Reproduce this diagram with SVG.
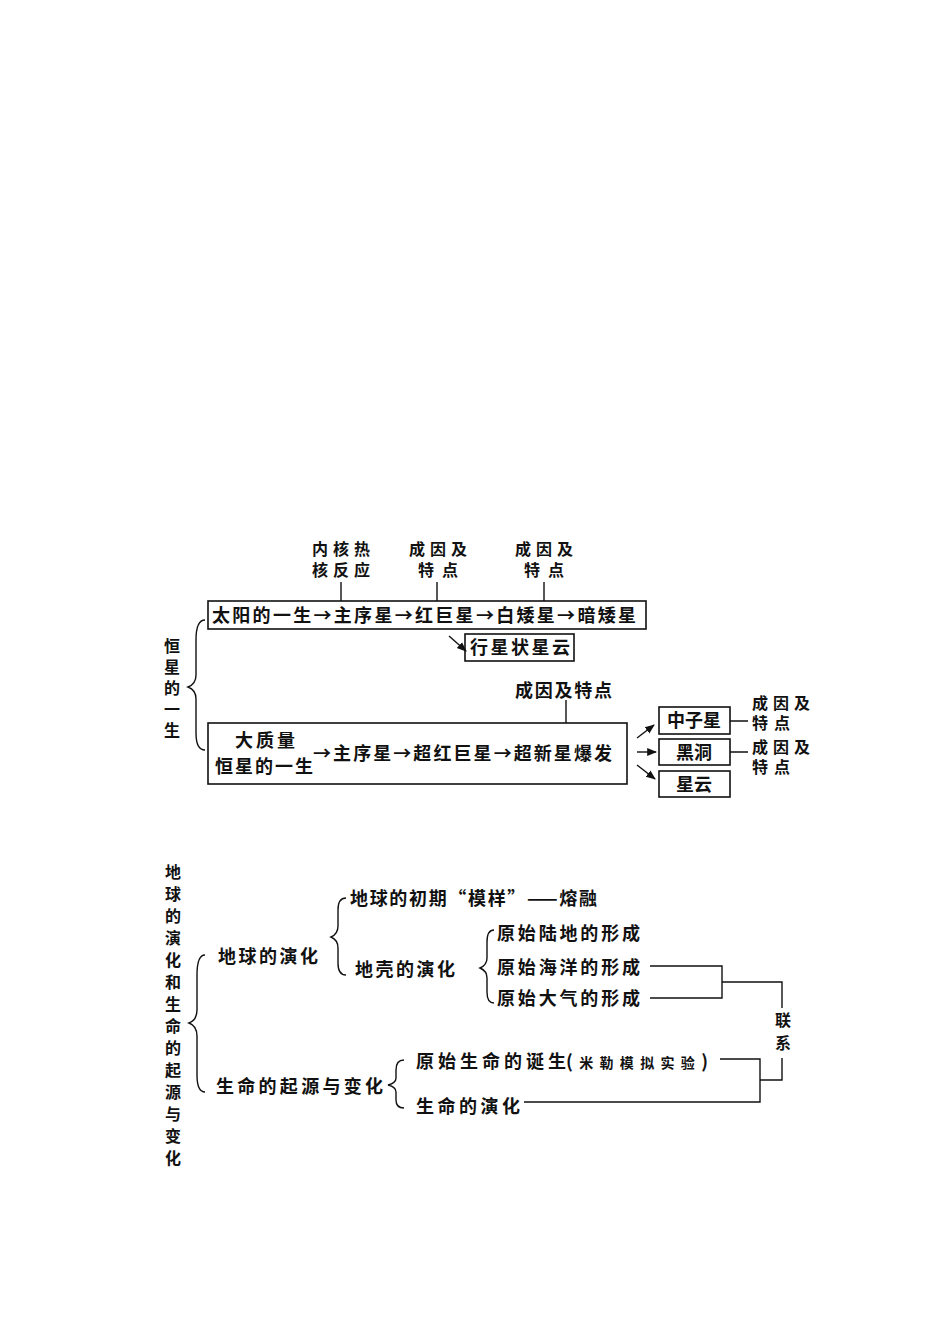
<svg xmlns="http://www.w3.org/2000/svg" width="950" height="1344" viewBox="0 0 950 1344">
<style>
text{font-family:"Noto Sans CJK SC","Noto Sans",sans-serif;font-size:18px;font-weight:bold;fill:#111}
.v{font-size:16px}
.s{font-size:14px}
.b{fill:none;stroke:#111;stroke-width:1.6}
.l{fill:none;stroke:#111;stroke-width:1.4}
.m{text-anchor:middle}
</style>
<defs><marker id="a" viewBox="0 0 10 10" refX="9" refY="5" markerWidth="7" markerHeight="7" orient="auto"><path d="M0,1 L10,5 L0,9 z" fill="#111"/></marker></defs>
<rect width="950" height="1344" fill="#fff"/>
<g id="top-labels">
<text x="312" y="555" class="v" textLength="58" lengthAdjust="spacing">内核热</text><text x="312" y="576" class="v" textLength="58" lengthAdjust="spacing">核反应</text>
<text x="409" y="555" class="v" textLength="58" lengthAdjust="spacing">成因及</text><text x="418" y="576" class="v" textLength="40" lengthAdjust="spacing">特点</text>
<text x="515" y="555" class="v" textLength="58" lengthAdjust="spacing">成因及</text><text x="524" y="576" class="v" textLength="40" lengthAdjust="spacing">特点</text>
</g>
<g id="sun"><rect x="208" y="601" width="438" height="28" class="b"/>
<text x="212" y="622" textLength="424" lengthAdjust="spacing">太阳的一生→主序星→红巨星→白矮星→暗矮星</text></g>
<g id="pn"><rect x="465" y="634" width="109" height="27" class="b"/><text x="470" y="654" textLength="100" lengthAdjust="spacing">行星状星云</text></g>
<g id="hengxing"><text x="172" y="652" class="m v">恒</text><text x="172" y="673" class="m v">星</text><text x="172" y="694" class="m v">的</text><text x="172" y="715" class="m v">一</text><text x="172" y="736" class="m v">生</text></g>
<g id="big-label"><text x="515" y="697" textLength="97" lengthAdjust="spacing">成因及特点</text></g>
<g id="massive"><rect x="208" y="723" width="419" height="61" class="b"/>
<text x="235" y="747" textLength="60" lengthAdjust="spacing">大质量</text><text x="215" y="773" textLength="98" lengthAdjust="spacing">恒星的一生</text>
<text x="313" y="760" textLength="299" lengthAdjust="spacing">→主序星→超红巨星→超新星爆发</text></g>
<g id="ns"><rect x="659" y="707" width="71" height="27" class="b"/><text x="694" y="727" class="m">中子星</text></g>
<g id="bh"><rect x="659" y="739" width="71" height="26" class="b"/><text x="694" y="759" class="m">黑洞</text></g>
<g id="neb"><rect x="659" y="771" width="71" height="26" class="b"/><text x="694" y="791" class="m">星云</text></g>
<g id="ns-l"><text x="752" y="709" class="v" textLength="58" lengthAdjust="spacing">成因及</text><text x="752" y="729" class="v" textLength="38" lengthAdjust="spacing">特点</text></g>
<g id="bh-l"><text x="752" y="753" class="v" textLength="58" lengthAdjust="spacing">成因及</text><text x="752" y="773" class="v" textLength="38" lengthAdjust="spacing">特点</text></g>
<g id="bottom-title">
<text x="173" y="878" class="m v">地</text><text x="173" y="900" class="m v">球</text><text x="173" y="922" class="m v">的</text><text x="173" y="944" class="m v">演</text><text x="173" y="966" class="m v">化</text><text x="173" y="988" class="m v">和</text><text x="173" y="1010" class="m v">生</text><text x="173" y="1032" class="m v">命</text><text x="173" y="1054" class="m v">的</text><text x="173" y="1076" class="m v">起</text><text x="173" y="1098" class="m v">源</text><text x="173" y="1120" class="m v">与</text><text x="173" y="1142" class="m v">变</text><text x="173" y="1164" class="m v">化</text>
</g>
<g id="earth"><text x="218" y="963" textLength="100" lengthAdjust="spacing">地球的演化</text></g>
<g id="e1"><text x="350" y="905" textLength="247" lengthAdjust="spacing">地球的初期“模样”——熔融</text></g>
<g id="e2"><text x="355" y="976" textLength="100" lengthAdjust="spacing">地壳的演化</text></g>
<g id="c1"><text x="497" y="940" textLength="143" lengthAdjust="spacing">原始陆地的形成</text></g>
<g id="c2"><text x="497" y="974" textLength="143" lengthAdjust="spacing">原始海洋的形成</text></g>
<g id="c3"><text x="497" y="1005" textLength="143" lengthAdjust="spacing">原始大气的形成</text></g>
<g id="life"><text x="216" y="1093" textLength="167" lengthAdjust="spacing">生命的起源与变化</text></g>
<g id="l1"><text x="416" y="1068" textLength="150" lengthAdjust="spacing">原始生命的诞生</text><text x="566" y="1068" textLength="142" lengthAdjust="spacing">(<tspan class="s">米勒模拟实验</tspan>)</text></g>
<g id="l2"><text x="416" y="1113" textLength="104" lengthAdjust="spacing">生命的演化</text></g>
<g id="lianxi"><text x="783" y="1026" class="m v">联</text><text x="783" y="1049" class="m v">系</text></g>
<g id="connectors">
<path class="l" d="M341,582V601M437,582V601M544,582V601M566,700V723M730,721H748M730,752H748"/>
<path class="l" marker-end="url(#a)" d="M449,636L466,651"/>
<path class="l" marker-end="url(#a)" d="M637,738L654,725"/>
<path class="l" marker-end="url(#a)" d="M637,752L656,752"/>
<path class="l" marker-end="url(#a)" d="M637,765L655,779"/>
<path class="l" d="M205,620Q196,620 196,640V675Q196,684 188,687Q196,690 196,699V733Q196,750 205,750"/>
<path class="l" d="M205,955Q197,955 197,975V1010Q197,1020 189,1023Q197,1026 197,1036V1075Q197,1092 205,1092"/>
<path class="l" d="M346,898Q338,898 338,910V926Q338,934 331,937Q338,940 338,948V963Q338,975 346,975"/>
<path class="l" d="M494,930Q487,930 487,942V958Q487,965 480,968Q487,971 487,978V992Q487,1003 494,1003"/>
<path class="l" d="M404,1060Q396,1060 396,1070V1078Q396,1083 388,1085Q396,1087 396,1092V1100Q396,1108 404,1108"/>
<path class="l" d="M650,966H722V998H650M722,982H782V1008M782,1058V1080H760M720,1059H760V1102H524"/>
</g>
</svg>
